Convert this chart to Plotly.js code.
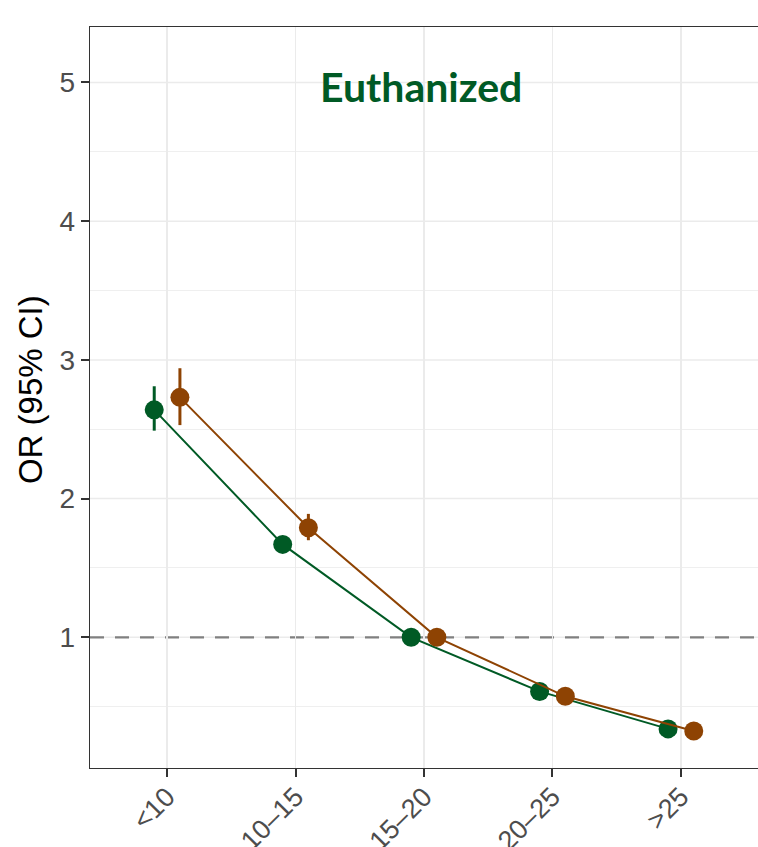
<!DOCTYPE html>
<html>
<head>
<meta charset="utf-8">
<script src="https://cdn.plot.ly/plotly-3.0.1.min.js"></script>
<style>html,body{margin:0;padding:0;background:#fff;}</style>
</head>
<body>
<div id="chart" style="width:758px;height:847px;"></div>
<script>
// Data
const categories = ['<10', '10–15', '15–20', '20–25', '>25'];
const greenOR = [2.64, 1.67, 1.00, 0.61, 0.34];
const greenLo = [2.49, 1.63, 1.00, 0.59, 0.33];
const greenHi = [2.81, 1.71, 1.00, 0.63, 0.35];
const brownOR = [2.73, 1.79, 1.00, 0.575, 0.325];
const brownLo = [2.53, 1.70, 1.00, 0.555, 0.31];
const brownHi = [2.94, 1.89, 1.00, 0.595, 0.34];
const yTicks = [1, 2, 3, 4, 5];
const yMinor = [0.5, 1.5, 2.5, 3.5, 4.5];
const refOR = 1;
const panelTitle = 'Euthanized';
const yTitle = 'OR (95% CI)';

const GREEN = '#005A25';
const BROWN = '#8E4303';

function mkTrace(y, lo, hi, color, name) {
  return {
    type: 'scatter', mode: 'lines+markers', name: name,
    x: categories, y: y,
    offsetgroup: name,
    line: {color: color, width: 2},
    marker: {color: color, size: 19},
    error_y: {
      type: 'data', symmetric: false,
      array: hi.map((h, i) => h - y[i]),
      arrayminus: y.map((v, i) => v - lo[i]),
      color: color, thickness: 3, width: 0
    },
    showlegend: false, cliponaxis: false
  };
}

const data = [
  mkTrace(greenOR, greenLo, greenHi, GREEN, 'g'),
  mkTrace(brownOR, brownLo, brownHi, BROWN, 'b')
];

// major y gridlines as shapes so the reference line can sit above them
const gridShapes = yTicks.map(v => ({
  type: 'line', xref: 'paper', x0: 0, x1: 1, yref: 'y', y0: v, y1: v,
  line: {color: '#EBEBEB', width: 1.5}, layer: 'between'
}));

const layout = {
  width: 758, height: 847,
  margin: {l: 90, r: 0, t: 27, b: 79},
  paper_bgcolor: '#ffffff', plot_bgcolor: '#ffffff',
  scattermode: 'group', scattergap: 0.6,
  showlegend: false,
  font: {family: 'Liberation Sans, Arial, sans-serif', color: '#4D4D4D'},
  xaxis: {
    type: 'category', range: [-0.6, 4.6],
    showgrid: true, gridcolor: '#EBEBEB', gridwidth: 1.5,
    showline: true, linecolor: '#333333', linewidth: 1.3, mirror: true,
    ticks: 'outside', ticklen: 8, tickwidth: 2, tickcolor: '#333333',
    tickangle: -45, tickfont: {size: 27, color: '#4D4D4D'},
    ticklabelstandoff: -7,
    zeroline: false, fixedrange: true
  },
  yaxis: {
    range: [0.058, 5.4], tickvals: yTicks, ticktext: yTicks.map(String),
    showgrid: false,
    minor: {tickvals: yMinor, showgrid: true, gridcolor: '#EBEBEB', gridwidth: 0.8, ticks: ''},
    showline: true, linecolor: '#333333', linewidth: 1.3, mirror: false,
    ticks: 'outside', ticklen: 8, tickwidth: 2, tickcolor: '#333333',
    tickfont: {size: 28, color: '#4D4D4D'},
    zeroline: false, fixedrange: true
  },
  shapes: gridShapes.concat([{
    type: 'line', xref: 'paper', x0: 0, x1: 1, yref: 'y', y0: refOR, y1: refOR,
    line: {color: '#808080', width: 2.2, dash: '14px,11px'}, layer: 'between'
  }]),
  annotations: [{
    text: '<b>' + panelTitle + '</b>', xref: 'paper', yref: 'paper',
    x: 0.4955, y: 0.920, xanchor: 'center', yanchor: 'middle', showarrow: false,
    font: {family: 'Lato, sans-serif', size: 41, color: GREEN}
  }, {
    text: yTitle, xref: 'paper', yref: 'paper', textangle: -90,
    x: -0.0898, y: 0.510, xanchor: 'center', yanchor: 'middle', showarrow: false,
    font: {family: 'Liberation Sans, Arial, sans-serif', size: 33, color: '#000000'}
  }]
};

Plotly.newPlot('chart', data, layout, {displayModeBar: false, staticPlot: true});
</script>
</body>
</html>
